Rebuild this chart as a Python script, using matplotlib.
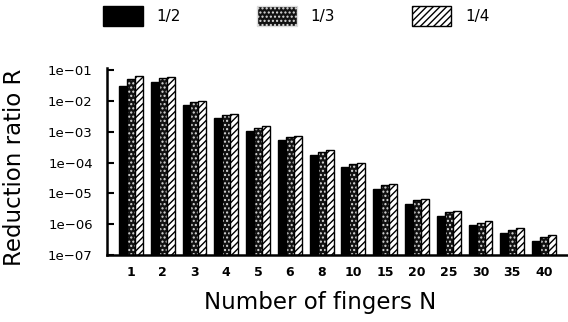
import numpy as np
import matplotlib
matplotlib.use("Agg")
import matplotlib.pyplot as plt
from matplotlib.patches import Patch

categories = ["1", "2", "3", "4", "5", "6", "8", "10", "15", "20", "25", "30", "35", "40"]
r_half = [3.0e-2, 4.2e-2, 7.1e-3, 2.8e-3, 1.05e-3, 5.4e-4, 1.7e-4, 7.1e-5, 1.4e-5, 4.6e-6, 1.9e-6, 9.3e-7, 5.0e-7, 2.9e-7]
r_third = [5.2e-2, 5.4e-2, 8.9e-3, 3.4e-3, 1.32e-3, 6.8e-4, 2.2e-4, 9.1e-5, 1.8e-5, 5.9e-6, 2.4e-6, 1.1e-6, 6.4e-7, 3.9e-7]
r_quarter = [6.3e-2, 5.9e-2, 9.8e-3, 3.8e-3, 1.5e-3, 7.3e-4, 2.5e-4, 1.0e-4, 2.0e-5, 6.5e-6, 2.6e-6, 1.3e-6, 7.3e-7, 4.4e-7]
series_labels = ["1/2", "1/3", "1/4"]

fig = plt.figure(figsize=(5.68, 3.22), dpi=100)
ax = fig.add_axes([106.7/568, 1-255/322, (567-106.7)/568, (255-67.7)/322])

x = np.arange(len(categories))
w = 0.25
bottom = 1e-7

ax.bar(x - w, np.array(r_half) - bottom, w, bottom=bottom, color="black", edgecolor="black", linewidth=1.0)
ax.bar(x, np.array(r_third) - bottom, w, bottom=bottom, color="#111111", edgecolor="#dddddd", hatch="....", linewidth=0)
ax.bar(x, np.array(r_third) - bottom, w, bottom=bottom, fill=False, edgecolor="black", linewidth=1.0)
ax.bar(x + w, np.array(r_quarter) - bottom, w, bottom=bottom, color="white", edgecolor="black", hatch="/////", linewidth=1.0)

ax.set_yscale("log")
ax.set_ylim(1e-7, 10**(-1 + 2.3/30.8))
ax.set_xlim(-0.76, len(categories) - 1 + 0.72)
ax.set_xticks(x)
ax.set_xticklabels(categories, fontsize=9, fontweight="bold")
ax.set_yticks([1e-7, 1e-6, 1e-5, 1e-4, 1e-3, 1e-2, 1e-1])
ax.set_yticklabels(["1e\u221207", "1e\u221206", "1e\u221205", "1e\u221204", "1e\u221203", "1e\u221202", "1e\u221201"], fontsize=9.5)
ax.tick_params(axis="y", which="major", direction="in", length=5, width=1.5, pad=10)
ax.tick_params(axis="y", which="minor", direction="in", length=3, width=1)
ax.tick_params(axis="x", length=0, pad=8)
for s in ["top", "right"]:
    ax.spines[s].set_visible(False)
ax.spines["left"].set_linewidth(1.8)
ax.spines["bottom"].set_linewidth(1.8)

ax.set_xlabel("Number of fingers N", fontsize=16.5, fontfamily="DejaVu Sans", color="black")
ax.xaxis.set_label_coords(0.463, -0.19)
ax.set_ylabel("Reduction ratio R", fontsize=16.5, fontfamily="DejaVu Sans", color="black")
ax.yaxis.set_label_coords(-0.175, 0.47)

handles = [
    Patch(facecolor="black", edgecolor="black"),
    Patch(facecolor="#111111", edgecolor="#dddddd", hatch="...."),
    Patch(facecolor="white", edgecolor="black", hatch="/////"),
]
fig.legend(handles, series_labels, loc="upper left", bbox_to_anchor=(103/568, 1 - 6/322),
           ncol=3, frameon=False, fontsize=11, handlelength=2.6, handleheight=1.6,
           handletextpad=0.9, columnspacing=5.0, borderpad=0, borderaxespad=0)

fig.savefig("out.png", dpi=100)
